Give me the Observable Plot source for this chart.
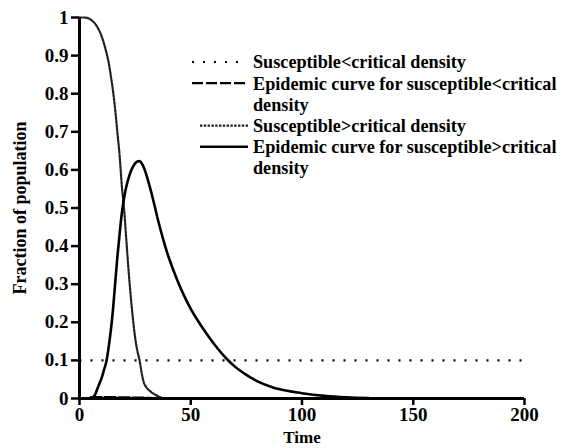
<!DOCTYPE html>
<html>
<head>
<meta charset="utf-8">
<script src="https://cdn.jsdelivr.net/npm/d3@7"></script>
<script src="https://cdn.jsdelivr.net/npm/@observablehq/plot@0.6"></script>
<style>
  html, body { margin: 0; padding: 0; background: #fff; }
  #chart { width: 565px; height: 448px; }
  #chart svg, #chart svg text { font-family: "Liberation Serif", "Times New Roman", serif !important; }
</style>
</head>
<body>
<div id="chart"></div>
<script>
// ---- data ----
const xTicks = [0, 50, 100, 150, 200];
const yTicks = [0, 0.1, 0.2, 0.3, 0.4, 0.5, 0.6, 0.7, 0.8, 0.9, 1];

// Susceptible < critical density (constant)
const subSusT = [0, 200];
const subSusV = [0.1, 0.1];

// Epidemic curve for susceptible < critical density (near zero)
const subEpiT = [5, 10, 20, 30, 38];
const subEpiV = [0.004, 0.004, 0.003, 0.002, 0.001];

// Susceptible > critical density
const supSusT = [0, 2, 4, 6, 8, 10, 12, 13, 14, 15, 16, 17, 18, 19, 20, 21, 22, 23, 24, 25, 26, 27, 28, 29, 30, 32, 34, 36, 38];
const supSusV = [1, 1, 0.998, 0.99, 0.975, 0.95, 0.91, 0.885, 0.85, 0.81, 0.76, 0.70, 0.64, 0.56, 0.50, 0.42, 0.34, 0.27, 0.21, 0.16, 0.125, 0.10, 0.065, 0.04, 0.03, 0.018, 0.01, 0.004, 0];

// Epidemic curve for susceptible > critical density
const supEpiT = [0, 5, 7, 8, 9, 10, 11, 12, 13, 14, 15, 16, 17, 18, 19, 20, 21, 22, 23, 24, 25, 26, 27, 28, 29, 30, 31, 32, 33, 34, 35, 36, 38, 40, 42, 44, 47, 50, 54, 58, 62, 66, 70, 75, 80, 86, 90, 100, 110, 120, 130];
const supEpiV = [0, 0, 0.01, 0.025, 0.04, 0.055, 0.075, 0.095, 0.13, 0.175, 0.23, 0.30, 0.37, 0.43, 0.485, 0.525, 0.555, 0.577, 0.595, 0.608, 0.617, 0.622, 0.623, 0.617, 0.605, 0.588, 0.568, 0.547, 0.524, 0.50, 0.475, 0.452, 0.41, 0.372, 0.34, 0.31, 0.27, 0.235, 0.197, 0.163, 0.132, 0.105, 0.083, 0.062, 0.045, 0.031, 0.024, 0.014, 0.007, 0.003, 0.001];

const legendLabels = [
  ["Susceptible<critical density"],
  ["Epidemic curve for susceptible<critical", "density"],
  ["Susceptible>critical density"],
  ["Epidemic curve for susceptible>critical", "density"]
];

// ---- styles ----
const FONT = "'Liberation Serif', 'Times New Roman', serif";
const styles = [
  {stroke: "#000", strokeWidth: 2.2, strokeDasharray: "2,9", strokeLinecap: "butt"},
  {stroke: "#000", strokeWidth: 2.2, strokeDasharray: "11,3"},
  {stroke: "#222", strokeWidth: 2.2, strokeDasharray: "2.4,1.4"},
  {stroke: "#000", strokeWidth: 2.6}
];
const sampleX = [[192, 238], [192, 248], [200, 248], [200, 248]];

const toRows = (T, V) => T.map((t, i) => ({t, v: V[i]}));
const fmt = d => String(+d.toFixed(1));

const plot = Plot.plot({
  width: 565,
  height: 448,
  marginLeft: 79,
  marginRight: 41,
  marginTop: 17,
  marginBottom: 50,
  style: {fontFamily: FONT, background: "#fff", color: "#000"},
  x: {domain: [0, 200]},
  y: {domain: [0, 1]},
  marks: [
    Plot.line(toRows(subSusT, subSusV), {x: "t", y: "v", ...styles[0]}),
    Plot.line(toRows(subEpiT, subEpiV), {x: "t", y: "v", ...styles[1]}),
    Plot.line(toRows(supSusT, supSusV), {x: "t", y: "v", curve: "monotone-x", ...styles[2]}),
    Plot.line(toRows(supEpiT, supEpiV), {x: "t", y: "v", curve: "monotone-x", ...styles[3]}),
    Plot.ruleY([0], {strokeWidth: 3}),
    Plot.ruleX([0], {strokeWidth: 3}),
    Plot.axisX({ticks: xTicks, tickSize: 7, tickPadding: 2, strokeWidth: 2.5, fontSize: 19, fontWeight: "bold",
      fontFamily: FONT, tickFormat: d => String(d), label: null}),
    Plot.axisY({ticks: yTicks, tickSize: 8, tickPadding: 3, strokeWidth: 2.5, fontSize: 19, fontWeight: "bold",
      fontFamily: FONT, tickFormat: fmt, label: null}),
    Plot.axisX({ticks: [], label: "Time", labelAnchor: "center", labelArrow: "none", labelOffset: 44, fontSize: 17, fontWeight: "bold", fontFamily: FONT}),
    Plot.axisY({ticks: [], label: "Fraction of population", labelAnchor: "center", labelArrow: "none", labelOffset: 66, fontSize: 18, fontWeight: "bold", fontFamily: FONT})
  ]
});

document.getElementById("chart").appendChild(plot);

// ---- legend (inside the plot, top right) ----
const svg = d3.select(plot);
const lg = svg.append("g")
  .attr("font-family", FONT)
  .attr("font-size", 18.2)
  .attr("font-weight", "bold")
  .attr("text-anchor", "start")
  .attr("fill", "#000");
const tx = 253, ly0 = 62, lh = 21.2;
let row = 0;
legendLabels.forEach((lines, i) => {
  const y = ly0 + row * lh;
  const s = styles[i];
  lg.append("line")
    .attr("x1", sampleX[i][0]).attr("x2", sampleX[i][1])
    .attr("y1", y).attr("y2", y)
    .attr("stroke", s.stroke).attr("stroke-width", s.strokeWidth)
    .attr("stroke-dasharray", s.strokeDasharray || null);
  lines.forEach((txt, j) => {
    lg.append("text")
      .attr("x", tx).attr("y", ly0 + (row + j) * lh)
      .attr("dy", "0.35em")
      .attr("text-anchor", "start")
      .text(txt);
  });
  row += lines.length;
});
</script>
</body>
</html>
